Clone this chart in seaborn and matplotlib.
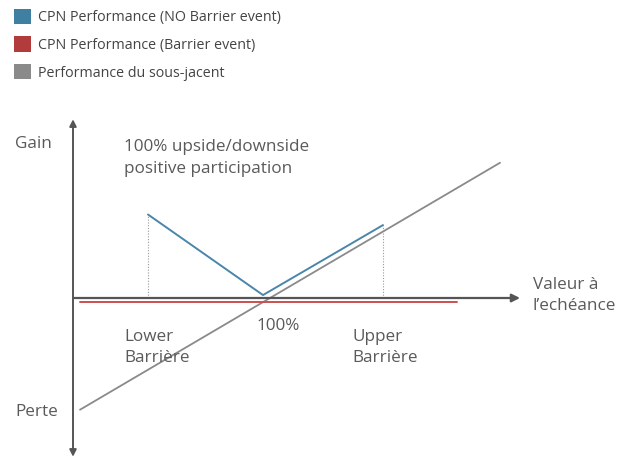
import numpy as np
import pandas as pd
import seaborn as sns
import matplotlib.pyplot as plt
from matplotlib.patches import Patch

# schematic payoff, x = underlying level at maturity (%), y = gain (%)
lower_barrier = 42.5
strike = 100
upper_barrier = 160

no_barrier_x = [lower_barrier, strike, upper_barrier]
no_barrier_y = [71, 2.5, 62]

barrier_x = [8.5, 197]
barrier_y = [-3.4, -3.4]

under_x = [8.5, 218.5]
under_y = [-95, 115]

legend_labels = ["CPN Performance (NO Barrier event)",
                 "CPN Performance (Barrier event)",
                 "Performance du sous-jacent"]
legend_colors = ["#3f7fa2", "#b23b3b", "#8a8a8a"]

sns.set_style("white")
plt.rcParams["font.family"] = ["Open Sans", "DejaVu Sans"]

fig = plt.figure(figsize=(6.22, 4.59), dpi=100)
ax = fig.add_axes([0, 0, 1, 1])
ax.set_xlim(-31.5, 279.5)
ax.set_ylim(-136.9, 253.4)
ax.axis("off")

txt = "#5a5a5a"

# axes arrows
ax.annotate("", xy=(228.5, 0), xytext=(5, 0),
            arrowprops=dict(arrowstyle="-|>", color="#555555", lw=1.6,
                            mutation_scale=12, shrinkA=0, shrinkB=0))
ax.annotate("", xy=(5, 152), xytext=(5, -135),
            arrowprops=dict(arrowstyle="<|-|>", color="#555555", lw=1.4,
                            mutation_scale=10, shrinkA=0, shrinkB=0))

# dotted barrier guides
for bx, by in [(lower_barrier, no_barrier_y[0]), (upper_barrier, no_barrier_y[2])]:
    ax.plot([bx, bx], [0, by], color="#999999", lw=0.8, ls=(0, (1, 1.5)))

sns.lineplot(x=under_x, y=under_y, ax=ax, color=legend_colors[2], lw=1.3)
sns.lineplot(x=barrier_x, y=barrier_y, ax=ax, color="#cc5050", lw=1.4)
sns.lineplot(x=no_barrier_x, y=no_barrier_y, ax=ax, color="#4a86aa", lw=1.4)

fs = 12.3
ls = 1.45
ax.text(-24, 131, "Gain", fontsize=fs, color=txt, va="center")
ax.text(-24, -97, "Perte", fontsize=fs, color=txt, va="center")
ax.text(30.5, 119, "100% upside/downside\npositive participation", fontsize=fs,
        color=txt, va="center", linespacing=ls)
ax.text(30.5, -42, "Lower\nBarrière", fontsize=fs, color=txt, va="center", linespacing=ls)
ax.text(strike - 3, -24, "100%", fontsize=fs, color=txt, va="center")
ax.text(144.5, -42, "Upper\nBarrière", fontsize=fs, color=txt, va="center", linespacing=ls)
ax.text(235, 2, "Valeur à\nl\u2019echéance", fontsize=fs, color=txt, va="center", linespacing=ls)

handles = [Patch(facecolor=c, edgecolor="none") for c in legend_colors]
fig.legend(handles, legend_labels, loc="upper left", bbox_to_anchor=(0.008, 1.0),
           frameon=False, fontsize=10.3, handlelength=1.25, handleheight=1.25,
           handletextpad=0.45, labelspacing=0.8, labelcolor="#444444",
           borderaxespad=0.2)

fig.savefig("out.png", dpi=100)
